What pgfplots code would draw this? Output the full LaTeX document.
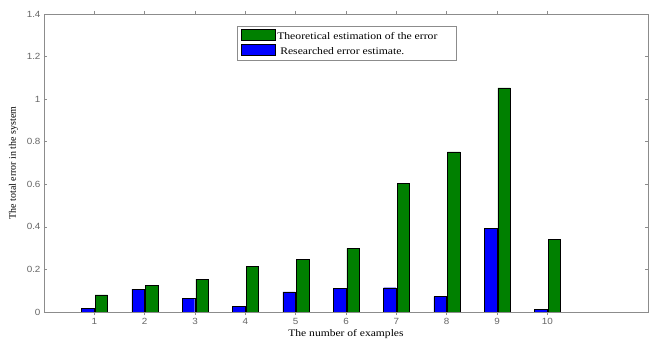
\documentclass[border=0pt]{standalone}
\usepackage{fontspec}
\setmainfont{Liberation Serif}
\newfontfamily\arialf[FakeStretch=1.1]{Liberation Sans}
\newfontfamily\wideserif[FakeStretch=1.16]{Liberation Serif}
\usepackage{pgfplots}
\pgfplotsset{compat=1.18}
\definecolor{mgreen}{rgb}{0,0.5,0}
\definecolor{axgray}{gray}{0.55}
\definecolor{lblgray}{gray}{0.4}
\begin{document}
\begin{tikzpicture}
\begin{axis}[
  scale only axis,
  width=604bp, height=298bp,
  xmin=0, xmax=12, ymin=0, ymax=1.4,
  xtick={1,2,3,4,5,6,7,8,9,10},
  ytick={0,0.2,0.4,0.6,0.8,1,1.2,1.4},
  yticklabels={0,0.2,0.4,0.6,0.8,1,1.2,1.4},
  tick align=inside,
  tick pos=both,
  major tick length=3bp,
  axis line style={axgray, line width=0.8pt},
  every tick/.style={axgray, line width=0.6pt},
  tick label style={font=\arialf\fontsize{9}{10}\selectfont, text=lblgray},
  /pgf/number format/assume math mode=true,
  xlabel={The number of examples},
  ylabel={The total error in the system},
  xlabel style={font=\wideserif\fontsize{10}{12}\selectfont, yshift=2bp},
  ylabel style={font=\fontsize{10}{12}\selectfont, yshift=2bp},
  ybar, bar width=0.25,
  legend style={at={(0.319,0.96)}, anchor=north west, draw=axgray,
    font=\wideserif\fontsize{10.1}{12}\selectfont, row sep=1.5pt, inner xsep=4pt, inner ysep=3pt,
    legend cell align=left},
  legend image code/.code={\draw[#1] (0cm,-0.14cm) rectangle (1.2cm,0.25cm);},
]
\addplot[fill=mgreen, draw=black, bar shift=0.14] coordinates {
 (1,0.08) (2,0.125) (3,0.154) (4,0.213) (5,0.248) (6,0.299) (7,0.605) (8,0.752) (9,1.053) (10,0.341)};
\addlegendentry{Theoretical estimation of the error\rule{13bp}{0pt}}
\addplot[fill=blue, draw=black, bar shift=-0.13] coordinates {
 (1,0.016) (2,0.107) (3,0.064) (4,0.025) (5,0.095) (6,0.111) (7,0.114) (8,0.072) (9,0.393) (10,0.013)};
\addlegendentry{\rule{3bp}{0pt}Researched error estimate.}
\end{axis}
\pgfresetboundingbox
\path[use as bounding box] ([xshift=-44bp,yshift=-29bp]current axis.south west) rectangle ([xshift=1bp,yshift=14bp]current axis.north east);
\end{tikzpicture}
\end{document}
